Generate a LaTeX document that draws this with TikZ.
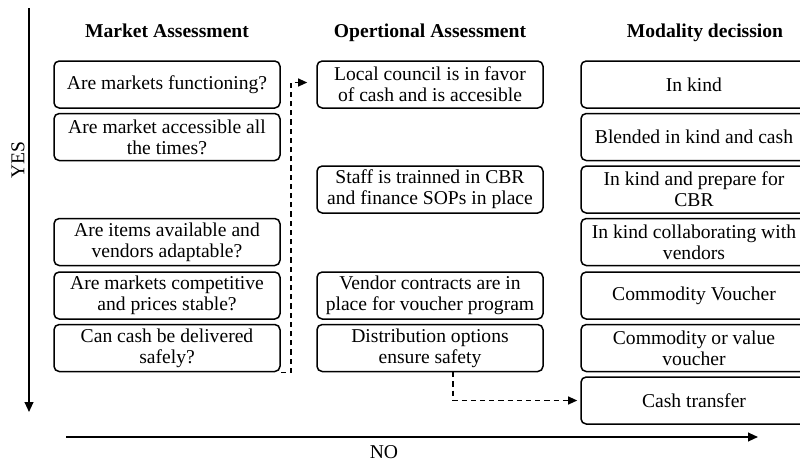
\documentclass[tikz,border=0pt]{standalone}
\usepackage{fontspec}
\setmainfont{Liberation Serif}
\usetikzlibrary{arrows.meta}
\begin{document}
\begin{tikzpicture}[x=0.5pt,y=-0.5pt,
  box/.style={draw, line width=0.75pt, rounded corners=2.6pt,
    minimum width=113pt, minimum height=23.5pt, inner sep=1pt,
    align=center, font=\fontsize{9.8}{10.4}\selectfont},
  head/.style={font=\fontsize{9.8}{11}\selectfont\bfseries, anchor=base},
  axis/.style={line width=0.8pt, -{Triangle[length=5pt,width=4.4pt]}},
  flow/.style={line width=0.75pt, dashed, dash pattern=on 2.6pt off 2pt,
    -{Triangle[length=4.6pt,width=4pt]}},
  lbl/.style={font=\fontsize{9.8}{11}\selectfont}]
\clip (0,0) rectangle (800,462);
\useasboundingbox (0,0) rectangle (800,462);

% axes
\coordinate (yesA) at (29,8);
\coordinate (yesB) at (29,412);
\coordinate (noA) at (66,437);
\coordinate (noB) at (758,437);
\draw[axis] (yesA) -- (yesB);
\draw[axis] (noA) -- (noB);
\node[lbl, rotate=90] (yes) at (18,160) {YES};
\node[lbl] (no) at (384,452) {NO};

% column headings
\node[head] (hm) at (167,37) {Market Assessment};
\node[head] (ho) at (430,37) {Opertional Assessment};
\node[head] (hd) at (705,37) {Modality decission};

% market assessment
\node[box] (l1) at (167,84.5) {Are markets functioning?};
\node[box] (l2) at (167,137) {Are market accessible all\\the times?};
\node[box] (l4) at (167,242) {Are items available and\\vendors adaptable?};
\node[box] (l5) at (167,295.5) {Are markets competitive\\and prices stable?};
\node[box] (l6) at (167,348) {Can cash be delivered\\safely?};

% operational assessment
\node[box] (m1) at (430,84.5) {Local council is in favor\\of cash and is accesible};
\node[box] (m3) at (430,189.5) {Staff is trainned in CBR\\and finance SOPs in place};
\node[box] (m5) at (430,295.5) {Vendor contracts are in\\place for voucher program};
\node[box] (m6) at (430,348) {Distribution options\\ensure safety};

% modality decision
\node[box] (r1) at (694,84.5) {In kind};
\node[box] (r2) at (694,137) {Blended in kind and cash};
\node[box] (r3) at (694,189.5) {In kind and prepare for\\CBR};
\node[box] (r4) at (694,242) {In kind collaborating with\\vendors};
\node[box] (r5) at (694,295.5) {Commodity Voucher};
\node[box] (r6) at (694,348) {Commodity or value\\voucher};
\node[box] (r7) at (694,400.5) {Cash transfer};

% flows
\draw[flow] (l6.south east) -- ++(10,0) |- ([xshift=-4.5pt,yshift=1pt]m1.west);
\draw[flow, shorten >=1.5pt] ([xshift=11.5pt]m6.south) |- (r7.west);
\end{tikzpicture}
\end{document}
